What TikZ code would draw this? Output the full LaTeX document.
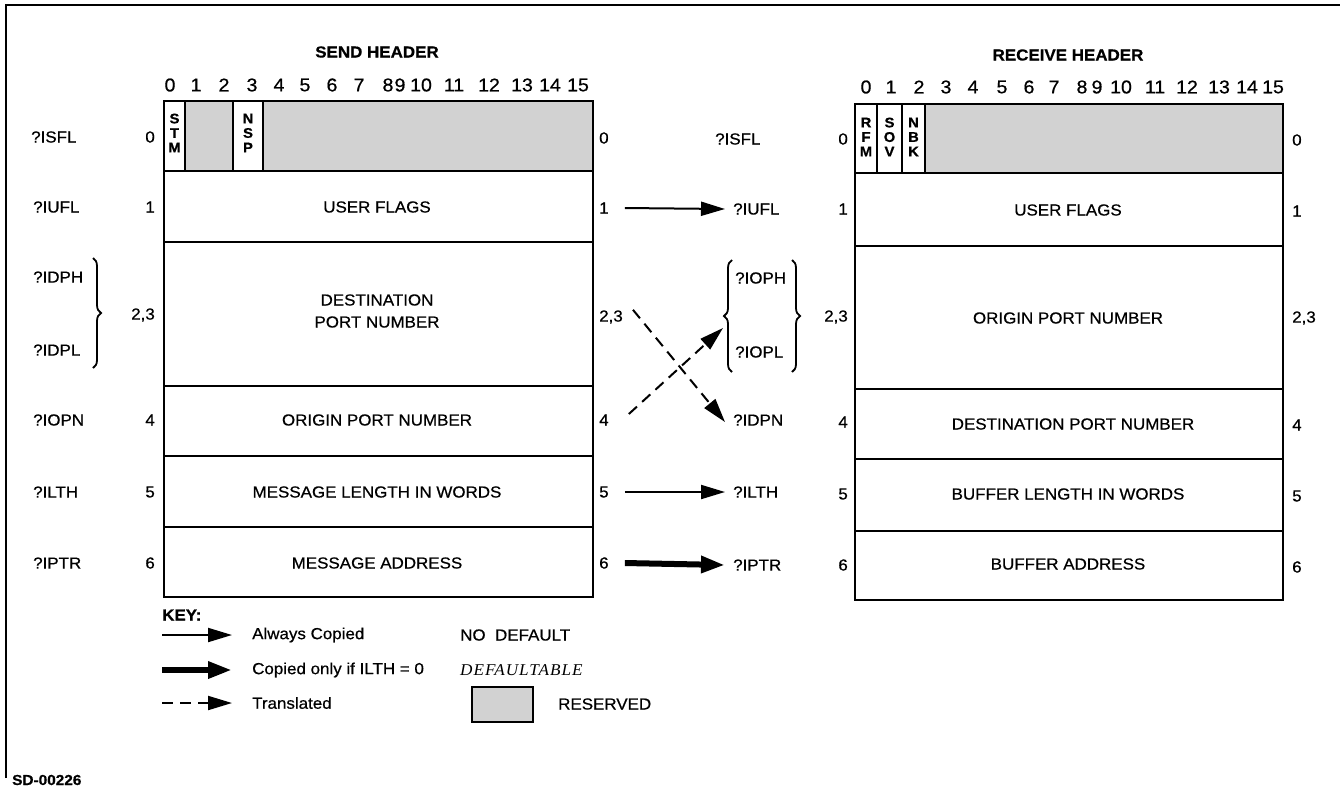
\documentclass[tikz,border=0pt]{standalone}
\usepackage{fontspec}
\setmainfont[FakeStretch=1.06, FakeBold=0.6]{Liberation Sans}
\newfontfamily\serifit[FakeStretch=1.04, LetterSpace=6]{Liberation Serif}
\usetikzlibrary{arrows.meta,decorations.pathreplacing}
\tikzset{
  lbl/.style={font=\fontsize{16}{18}\selectfont, inner sep=0pt},
  bitn/.style={font=\fontsize{18.5}{20}\selectfont, inner sep=0pt},
  head/.style={font=\bfseries\fontsize{16}{18}\selectfont, inner sep=0pt},
  vlet/.style={font=\bfseries\fontsize{14}{14.5}\selectfont, inner sep=0pt, align=center},
  boxline/.style={line width=2.4pt},
  res/.style={fill=gray!35},
  copyarrow/.style={line width=2pt, -{Triangle[length=24pt,width=14pt]}},
  thickarrow/.style={line width=6pt, -{Triangle[length=24pt,width=16pt]}},
  transarrow/.style={line width=2pt, dash pattern=on 11pt off 7pt, -{Triangle[length=24pt,width=14pt]}},
  bracel/.style={line width=1.8pt, decorate, decoration={brace, amplitude=8pt}},
}
\begin{document}
\begin{tikzpicture}[x=1pt,y=-1pt]
\useasboundingbox (0,0) rectangle (1340,788);
% frame
\draw[line width=2.2pt] (6,778) -- (6,5) -- (1340,5);

% ================= SEND HEADER =================
\node[head] (sendh) at (377,52) {SEND HEADER};
\foreach \n/\x in {0/170,1/196,2/224,3/252,4/279,5/305,6/332,7/359,8/388,9/400,10/421,11/454,12/489,13/522,14/550,15/578}
  \node[bitn] (sb\n) at (\x,85) {\n};
% reserved fills row 0
\fill[res] (185,101) rectangle (233,171);
\fill[res] (263,101) rectangle (593,171);
\draw[boxline] (164,101) rectangle (593,597);
\foreach \y in {171,242,386,456,527} \draw[boxline] (164,\y) -- (593,\y);
\draw[boxline] (185,101) -- (185,171);
\draw[boxline] (233,101) -- (233,171);
\draw[boxline] (263,101) -- (263,171);
\node[vlet] (stm) at (174.5,133) {S\\T\\M};
\node[vlet] (nsp) at (248,133) {N\\S\\P};
\node[lbl] (suf) at (377,207) {USER FLAGS};
\node[lbl, align=center, font=\fontsize{16}{22}\selectfont] (sdp) at (377,311) {DESTINATION\\PORT NUMBER};
\node[lbl] (sop) at (377,420) {ORIGIN PORT NUMBER};
\node[lbl] (sml) at (377,492) {MESSAGE LENGTH IN WORDS};
\node[lbl] (sma) at (377,563) {MESSAGE ADDRESS};
% left labels
\node[lbl, anchor=west] (lisfl) at (31,137) {?ISFL};
\node[lbl, anchor=west] (liufl) at (33,207) {?IUFL};
\node[lbl, anchor=west] (lidph) at (33,277) {?IDPH};
\node[lbl, anchor=west] (lidpl) at (33,350) {?IDPL};
\node[lbl, anchor=west] (liopn) at (33,420) {?IOPN};
\node[lbl, anchor=west] (lilth) at (33,492) {?ILTH};
\node[lbl, anchor=west] (liptr) at (33,563) {?IPTR};
\draw[bracel] (93,258) -- (93,368);
\foreach \nm/\t/\y in {l0/0/137,l1/1/207,l23/{2,3}/315,l4/4/420,l5/5/492,l6/6/563}
  \node[lbl, anchor=east] (s\nm) at (155,\y) {\t};
\foreach \nm/\t/\y in {r0/0/138,r1/1/208,r23/{2,3}/317,r4/4/420,r5/5/492,r6/6/563}
  \node[lbl, anchor=west] (s\nm) at (599,\y) {\t};

% ================= RECEIVE HEADER =================
\node[head] (recvh) at (1068,55) {RECEIVE HEADER};
\foreach \n/\x in {0/866,1/891,2/919,3/946,4/973,5/1002,6/1029,7/1054,8/1082,9/1097,10/1121,11/1155,12/1187,13/1219,14/1247,15/1273}
  \node[bitn] (rb\n) at (\x,87) {\n};
\fill[res] (925,104) rectangle (1283,173);
\draw[boxline] (855,104) rectangle (1283,600);
\foreach \y in {173,246,389,459,531} \draw[boxline] (855,\y) -- (1283,\y);
\draw[boxline] (877,104) -- (877,173);
\draw[boxline] (902,104) -- (902,173);
\draw[boxline] (925,104) -- (925,173);
\node[vlet] (rfm) at (866,137) {R\\F\\M};
\node[vlet] (sov) at (889.5,137) {S\\O\\V};
\node[vlet] (nbk) at (913.5,137) {N\\B\\K};
\node[lbl] (ruf) at (1068,210) {USER FLAGS};
\node[lbl] (rop) at (1068,318) {ORIGIN PORT NUMBER};
\node[lbl] (rdp) at (1073,424) {DESTINATION PORT NUMBER};
\node[lbl] (rbl) at (1068,494) {BUFFER LENGTH IN WORDS};
\node[lbl] (rba) at (1068,564) {BUFFER ADDRESS};
% receive left labels
\node[lbl, anchor=west] (risfl) at (715,139) {?ISFL};
\node[lbl, anchor=west] (riufl) at (733,209) {?IUFL};
\node[lbl, anchor=west] (rioph) at (735,278) {?IOPH};
\node[lbl, anchor=west] (riopl) at (735,352) {?IOPL};
\node[lbl, anchor=west] (ridpn) at (733,420) {?IDPN};
\node[lbl, anchor=west] (rilth) at (733,492) {?ILTH};
\node[lbl, anchor=west] (riptr) at (733,565) {?IPTR};
\draw[bracel] (732,372) -- (732,260);
\draw[bracel] (792,260) -- (792,372);
\coordinate (rgrp) at (723,328);
\foreach \nm/\t/\y in {l0/0/139,l1/1/209,l23/{2,3}/317,l4/4/422,l5/5/494,l6/6/565}
  \node[lbl, anchor=east] (r\nm) at (848,\y) {\t};
\foreach \nm/\t/\y in {r0/0/140,r1/1/211,r23/{2,3}/318,r4/4/425,r5/5/496,r6/6/567}
  \node[lbl, anchor=west] (r\nm) at (1292,\y) {\t};

% ================= ARROWS =================
\draw[copyarrow] ([xshift=16pt]sr1.east) -- ([xshift=-8pt]riufl.west);
\draw[copyarrow] ([xshift=16pt]sr5.east) -- ([xshift=-8pt]rilth.west);
\draw[thickarrow] ([xshift=16pt]sr6.east) -- ([xshift=-8pt]riptr.west);
\draw[transarrow] ([xshift=10pt,yshift=14pt]sr23.south east) -- ([xshift=-8pt,yshift=-2pt]ridpn.west);
\draw[transarrow] ([xshift=20pt,yshift=6pt]sr4.east) -- (rgrp);

% ================= KEY =================
\node[head, anchor=west] (key) at (162,615) {KEY:};
\coordinate (k1a) at (162,635); \coordinate (k1b) at (232,635);
\coordinate (k2a) at (162,670); \coordinate (k2b) at (232,670);
\coordinate (k3a) at (162,703); \coordinate (k3b) at (232,703);
\draw[copyarrow] (k1a) -- (k1b);
\draw[thickarrow] (k2a) -- (k2b);
\draw[transarrow] (k3a) -- (k3b);
\node[lbl, anchor=west] (kt1) at (252,635) {Always Copied};
\node[lbl, anchor=west] (kt2) at (252,670) {Copied only if ILTH = 0};
\node[lbl, anchor=west] (kt3) at (252,703) {Translated};
\node[lbl, anchor=west] (knd) at (460,635) {NO\ \ DEFAULT};
\node[lbl, anchor=west, font=\serifit\itshape\fontsize{16.5}{18}\selectfont] (kdf) at (460,670) {DEFAULTABLE};
\draw[boxline, res] (472,687) rectangle (533,722);
\node[lbl, anchor=west] (krs) at (558,704) {RESERVED};

\node[head, anchor=west, font=\bfseries\fontsize{14.5}{16}\selectfont] (sd) at (12,780) {SD-00226};
\end{tikzpicture}
\end{document}
